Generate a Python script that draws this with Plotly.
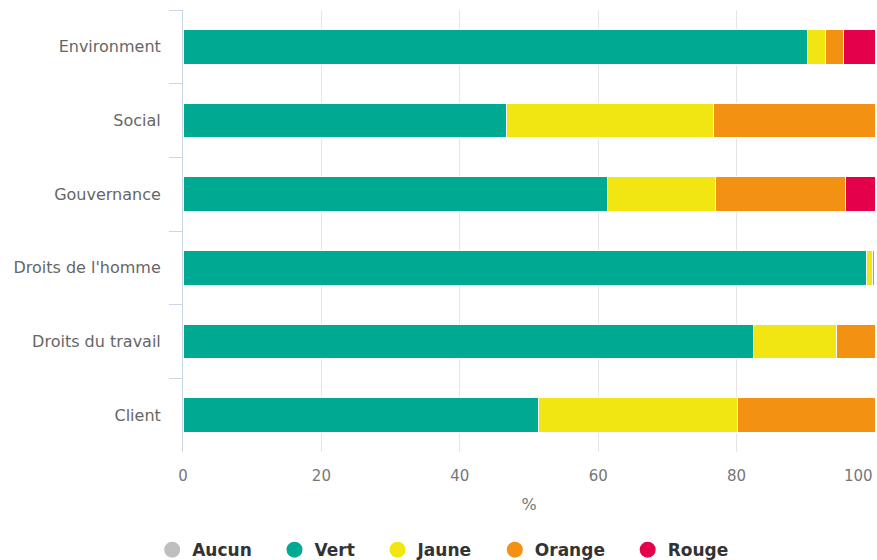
import plotly.graph_objects as go

categories = ["Environment", "Social", "Gouvernance", "Droits de l'homme", "Droits du travail", "Client"]
series_names = ["Aucun", "Vert", "Jaune", "Orange", "Rouge"]
aucun = [0, 0, 0, 0, 0, 0]
vert = [90.3, 46.8, 61.3, 98.8, 82.4, 51.3]
jaune = [2.6, 29.9, 15.7, 0.8, 12.0, 28.9]
orange = [2.6, 23.3, 18.8, 0.3, 5.6, 19.8]
rouge = [4.5, 0.0, 4.2, 0.1, 0.0, 0.0]
colors = ["#BFBFBF", "#00A991", "#F1E611", "#F39113", "#E5004C"]
x_tick_values = [0, 20, 40, 60, 80, 100]
x_tick_labels = ["0", "20", "40", "60", "80", "100"]

values = [aucun, vert, jaune, orange, rouge]

fig = go.Figure()
for name, vals, col in zip(series_names, values, colors):
    fig.add_trace(go.Bar(
        y=categories, x=vals, orientation="h", name=name,
        marker=dict(color=col, line=dict(color="white", width=1)),
        width=0.47, showlegend=False, legendgroup=name,
        hovertemplate="%{y}: %{x}%<extra>" + name + "</extra>",
    ))
for i, (name, col) in enumerate(zip(series_names, colors)):
    pad = "\u00a0\u00a0\u00a0" if i < len(series_names) - 1 else ""
    fig.add_trace(go.Scatter(
        x=[None], y=[None], mode="markers", name=name + pad, legendgroup=name,
        marker=dict(color=col, size=16, symbol="circle"),
        showlegend=True,
    ))

# keep the last tick label inside the page (shifted left like the reference)
shown_labels = x_tick_labels[:-1] + [x_tick_labels[-1] + "\u00a0" * 7]

fig.update_layout(
    barmode="stack",
    width=877, height=560,
    margin=dict(l=183, r=2, t=10, b=108, autoexpand=False),
    plot_bgcolor="white", paper_bgcolor="white",
    font=dict(family="DejaVu Sans", size=15, color="#666666"),
    legend=dict(
        orientation="h", x=0.376, xanchor="center",
        y=-0.222, yanchor="middle",
        font=dict(family="DejaVu Sans", size=17, color="#333333", weight="bold"),
        itemwidth=30, tracegroupgap=0,
    ),
    xaxis=dict(
        range=[0, 100], tickvals=x_tick_values, ticktext=shown_labels,
        showgrid=True, gridcolor="#e6e6e6", gridwidth=1,
        zeroline=False, showline=False, ticks="", automargin=False,
        ticklabelstandoff=13, ticklabeloverflow="allow",
        tickfont=dict(family="DejaVu Sans", size=15, color="#777777"),
        title=dict(text="%", font=dict(family="DejaVu Sans", size=16, color="#777777"), standoff=14),
    ),
    yaxis=dict(
        categoryorder="array", categoryarray=categories,
        autorange="reversed", automargin=False,
        showline=True, linecolor="#ccd6eb", linewidth=1,
        ticks="outside", tickson="boundaries", ticklen=13, tickcolor="#ccd6eb",
        showgrid=False, zeroline=False,
        ticklabelstandoff=18,
        tickfont=dict(family="DejaVu Sans", size=16, color="#666666"),
    ),
)

fig.write_html(
    "out.html",
    config={"displayModeBar": False},
    post_script="document.body.style.margin='0';document.body.style.overflow='hidden';",
)
